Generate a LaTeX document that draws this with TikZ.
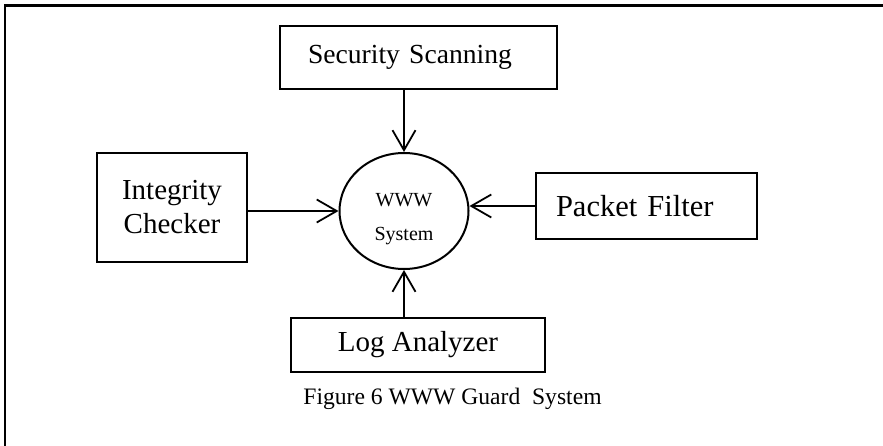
\documentclass[tikz,border=0pt]{standalone}
\usepackage{fontspec}
\setmainfont{Liberation Serif}
\usetikzlibrary{arrows.meta,shapes.geometric}
\tikzset{
  box/.style={draw, line width=2pt, inner ysep=0pt, font=\fontsize{29}{34}\selectfont},
  hub/.style={draw, ellipse, line width=2pt, inner sep=0pt, minimum width=129pt, minimum height=116pt},
  hubtext/.style={align=center, inner sep=0pt, font=\fontsize{20}{34}\selectfont},
  feed/.style={line width=1.8pt, -{Straight Barb[length=20pt,width=23pt,line width=1.8pt]}},
  frameline/.style={line width=2.8pt}
}
\begin{document}
\begin{tikzpicture}[x=1pt,y=-1pt]
\useasboundingbox (0,0) rectangle (883,446);
% open frame: top and left edges
\coordinate (ftl) at (5,5.5);
\coordinate (ftr) at (883,5.5);
\coordinate (fbl) at (5,446);
\draw[frameline] (fbl) -- (ftl) -- (ftr);

\node[hub] (www) at (404,211) {};
\node[hubtext] (wwwlabel) at ([yshift=-8pt]www.center) {WWW\\System};

\node[box, font=\fontsize{27.6}{33}\selectfont, minimum height=63pt, text width=221pt, inner xsep=28pt, align=left] (ss) at (418.5,57.5) {Security Scanning};
\node[box, minimum width=150pt, minimum height=109pt, inner xsep=0pt, align=center] (ic) at (172,207.5) {Integrity\\Checker};
\node[box, font=\fontsize{30.5}{35}\selectfont, minimum height=66pt, text width=181pt, inner xsep=20pt, align=left] (pf) at (646.5,206) {Packet Filter};
\node[box, minimum width=254pt, minimum height=54pt, align=center] (la) at (418,345) {Log Analyzer};

\node[font=\fontsize{23.6}{27}\selectfont] (cap) at (452.5,399) {Figure 6 WWW Guard\ \ System};

\draw[feed] (ss.south -| www.north) -- (www.north);
\draw[feed] (ic.east |- www.west) -- (www.west);
\draw[feed] (pf.west) -- (www.east |- pf.west);
\draw[feed] (la.north -| www.south) -- (www.south);
\end{tikzpicture}
\end{document}
